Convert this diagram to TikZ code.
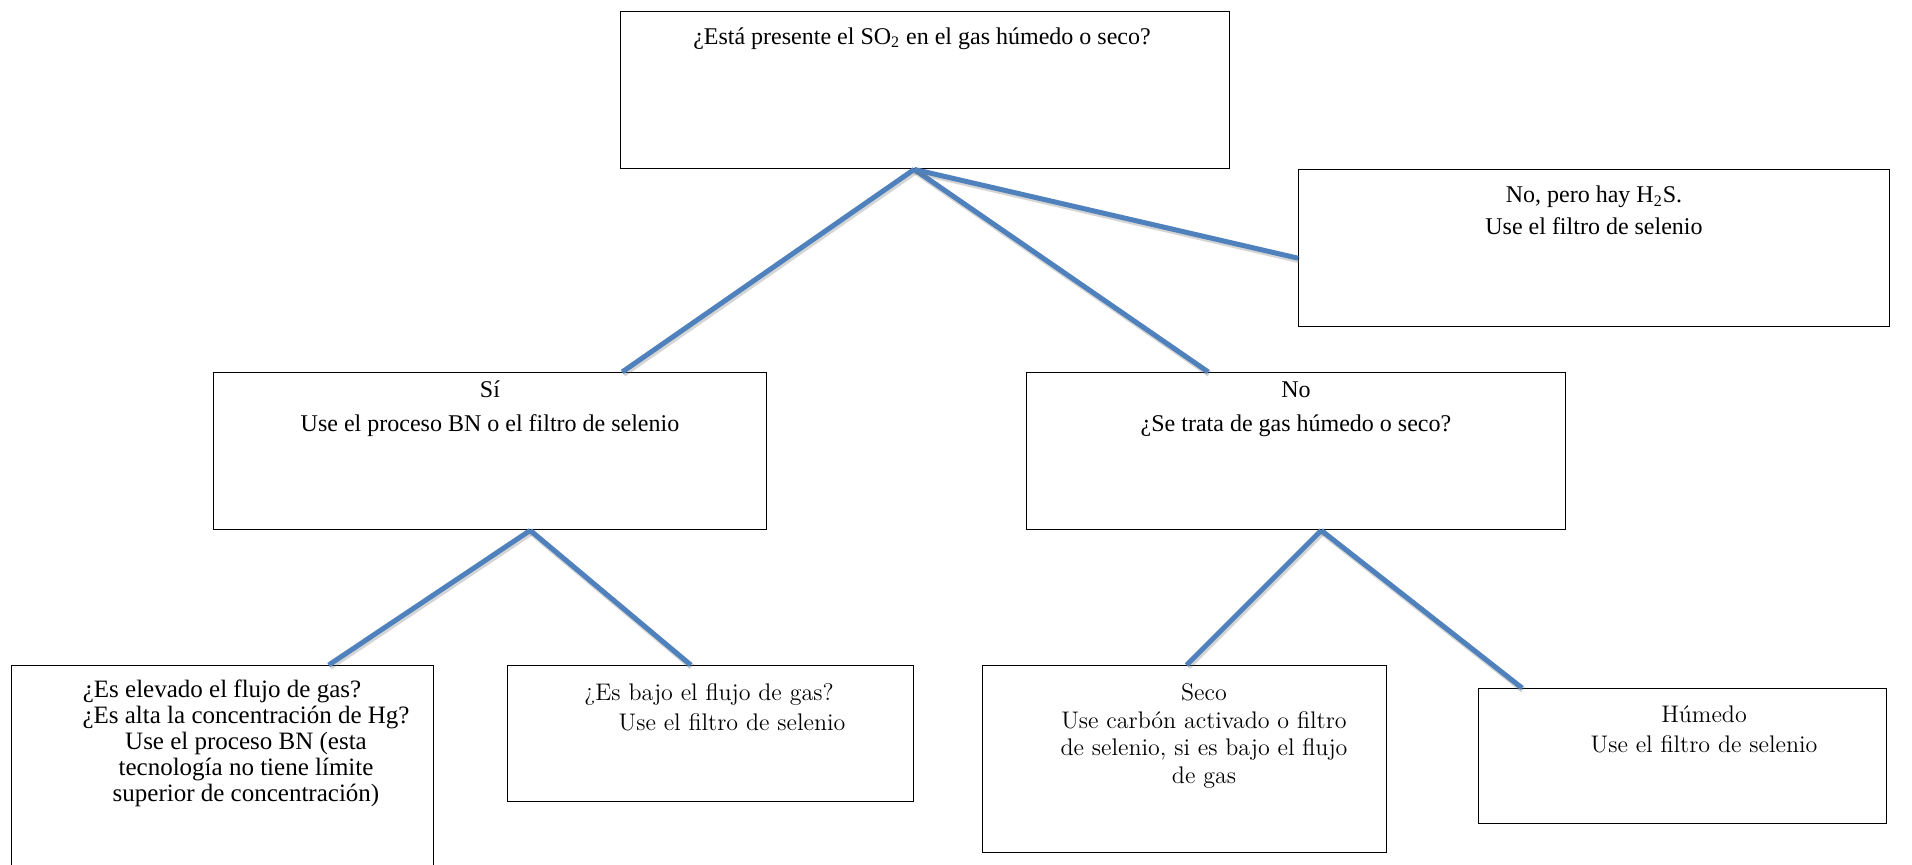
\documentclass[tikz,border=0pt]{standalone}
\usepackage{fontspec}
\newfontfamily\tnrfont{Liberation Serif}
\usetikzlibrary{calc}
\definecolor{linkblue}{RGB}{79,129,189}
% fixed line spacing, no extra \lineskip for accented lines
\newcommand\fixedlines{\setlength{\lineskiplimit}{-20pt}}
\tikzset{
  boxst/.style={draw=black, line width=0.7pt, inner sep=0pt, anchor=north west},
  tnrtext/.style={font=\tnrfont\fontsize{12}{#1}\selectfont\fixedlines,
    align=center, anchor=north, inner sep=0pt},
  lmtext/.style={font=\fontsize{12}{#1}\selectfont\fixedlines,
    align=center, anchor=north, inner sep=0pt},
  link/.style={draw=linkblue, line width=2.5pt,
    preaction={draw=black!55, draw opacity=0.3, line width=3.2pt,
      transform canvas={xshift=0.6pt, yshift=-0.9pt}}}
}
\begin{document}
\begin{tikzpicture}[x=0.5pt, y=-0.5pt]
\useasboundingbox (0,0) rectangle (1912,865);
\clip (0,0) rectangle (1912,865);

% question boxes, first and second level
\node[boxst, minimum width=304.5pt, minimum height=78.5pt] (q0)  at (620,11)   {};
\node[boxst, minimum width=295.5pt, minimum height=78.5pt] (h2s) at (1298,169) {};
\node[boxst, minimum width=276.5pt, minimum height=78.5pt] (si)  at (213,372)  {};
\node[boxst, minimum width=269.5pt, minimum height=78.5pt] (no)  at (1026,372) {};

% answer boxes
\node[boxst, minimum width=211pt, minimum height=117.5pt] (b1) at (11,665)   {};
\node[boxst, minimum width=203pt, minimum height=68pt]    (b2) at (507,665)  {};
\node[boxst, minimum width=202pt, minimum height=93.5pt]  (b3) at (982,665)  {};
\node[boxst, minimum width=204pt, minimum height=67.5pt]  (b4) at (1478,688) {};

% texts
\node[tnrtext=15] (t0) at (922,23)
  {\strut ¿Está presente el SO\textsubscript{2} en el gas húmedo o seco?};
\node[tnrtext=16] (th2s) at (1594,180)
  {\strut No, pero hay H\textsubscript{2}S.\\Use el filtro de selenio};
\node[tnrtext=17] (tsi) at (490,373)
  {\strut Sí\\Use el proceso BN o el filtro de selenio};
\node[tnrtext=17] (tno) at (1296,373)
  {\strut No\\¿Se trata de gas húmedo o seco?};
\node[anchor=north, inner sep=0pt, align=center,
      font=\tnrfont\fontsize{12.5}{13}\selectfont\fixedlines] (tb1) at (246,679)
  {\strut ¿Es elevado el flujo de gas?\hspace*{24pt}\\
   ¿Es alta la concentración de Hg?\\
   Use el proceso BN (esta\\
   tecnología no tiene límite\\
   superior de concentración)};
\node[lmtext=15] (tb2) at (709,679)
  {\strut ¿Es bajo el flujo de gas?\\\hspace*{23pt}Use el filtro de selenio};
\node[lmtext=14] (tb3) at (1204,680)
  {\strut Seco\\Use carbón activado o filtro\\de selenio, si es bajo el flujo\\de gas};
\node[lmtext=15] (tb4) at (1704,701)
  {\strut Húmedo\\Use el filtro de selenio};

% connectors
\coordinate (fork0) at ($(q0.south)+(-11,0)$);
\coordinate (forksi) at ($(si.south)+(40,0)$);
\coordinate (forkno) at ($(no.south)+(25,0)$);
\draw[link] (fork0) -- ($(si.north)+(132,0)$);
\draw[link] (fork0) -- ($(no.north)+(-88,0)$);
\draw[link] (fork0) -- ($(h2s.west)+(0,10)$);
\draw[link] (forksi) -- ($(b1.north)+(106,0)$);
\draw[link] (forksi) -- ($(b2.north)+(-20,0)$);
\draw[link] (forkno) -- ($(b3.north)+(2,0)$);
\draw[link] (forkno) -- ($(b4.north west)+(44,0)$);
\end{tikzpicture}
\end{document}
